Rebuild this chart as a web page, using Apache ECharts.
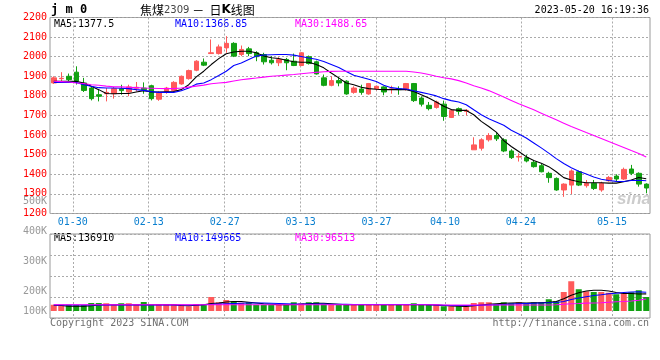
<!DOCTYPE html>
<html><head><meta charset="utf-8">
<script src="https://cdn.jsdelivr.net/npm/echarts@6/dist/echarts.min.js"></script>
<style>html,body{margin:0;padding:0;background:#fff}#c{width:660px;height:360px}</style>
</head><body><div id="c"></div>
<script>
const dates = [
'01-17','01-18','01-19','01-20','01-30','01-31','02-01','02-02','02-03','02-06',
'02-07','02-08','02-09','02-10','02-13','02-14','02-15','02-16','02-17','02-20',
'02-21','02-22','02-23','02-24','02-27','02-28','03-01','03-02','03-03','03-06',
'03-07','03-08','03-09','03-10','03-13','03-14','03-15','03-16','03-17','03-20',
'03-21','03-22','03-23','03-24','03-27','03-28','03-29','03-30','03-31','04-03',
'04-04','04-06','04-07','04-10','04-11','04-12','04-13','04-14','04-17','04-18',
'04-19','04-20','04-21','04-24','04-25','04-26','04-27','04-28','05-04','05-05',
'05-08','05-09','05-10','05-11','05-12','05-15','05-16','05-17','05-18','05-19'];
const labelDates = ['01-30','02-13','02-27','03-13','03-27','04-10','04-24','05-15'];

const opens = [
1866,1888,1900,1921,1866,1840,1806,1811,1811,1837,
1820,1839,1840,1852,1783,1823,1828,1861,1888,1931,
1972,2016,2016,2045,2068,2011,2040,2020,2011,1982,
1969,1986,1977,1955,2000,1974,1892,1854,1878,1875,
1818,1835,1810,1837,1846,1833,1836,1834,1863,1789,
1752,1741,1758,1690,1735,1721,1525,1533,1576,1598,
1576,1519,1488,1485,1461,1444,1405,1379,1320,1345,
1413,1342,1354,1320,1367,1391,1376,1427,1405,1350];
const closes = [
1892,1890,1883,1875,1828,1786,1798,1818,1837,1827,
1846,1844,1832,1786,1815,1840,1869,1900,1929,1977,
1957,2020,2050,2068,2003,2037,2016,2000,1974,1969,
1986,1969,1955,2020,1965,1912,1854,1878,1866,1810,
1840,1818,1863,1849,1820,1836,1832,1863,1776,1758,
1735,1769,1695,1726,1721,1726,1550,1576,1598,1581,
1519,1485,1491,1468,1439,1413,1383,1320,1350,1417,
1345,1354,1328,1354,1384,1376,1425,1405,1350,1330];
const lows = [
1861,1875,1875,1858,1820,1777,1772,1772,1786,1806,
1798,1823,1811,1777,1775,1811,1823,1857,1883,1926,
1952,2014,2011,2020,1998,2003,2003,1977,1960,1960,
1952,1931,1952,1952,1960,1909,1849,1849,1849,1806,
1811,1806,1806,1828,1803,1811,1806,1827,1769,1746,
1726,1735,1673,1687,1704,1700,1525,1521,1567,1570,
1513,1478,1465,1461,1434,1410,1357,1316,1285,1299,
1340,1332,1320,1311,1362,1362,1371,1396,1337,1303];
const highs = [
1900,1921,1914,1951,1892,1846,1832,1840,1846,1857,
1857,1871,1869,1857,1823,1846,1875,1904,1934,1982,
1991,2088,2062,2105,2074,2057,2050,2028,2020,2003,
1998,1994,2016,2023,2006,1980,1909,1900,1895,1880,
1849,1857,1866,1852,1849,1852,1849,1866,1866,1798,
1769,1776,1776,1733,1741,1733,1589,1584,1610,1610,
1584,1528,1507,1499,1470,1453,1413,1384,1354,1425,
1419,1371,1371,1362,1391,1400,1434,1448,1410,1354];

const ma5 = [
1875,1875,1875,1874,1866,1849,1832,1812,1811,1812,
1812,1820,1827,1820,1820,1821,1822,1832,1857,1897,
1926,1960,1990,2015,2024,2028,2028,2020,2004,1995,
1991,1982,1974,1972,1972,1960,1943,1917,1892,1866,
1857,1844,1837,1834,1832,1832,1832,1832,1822,1806,
1789,1769,1747,1730,1726,1726,1704,1670,1644,1615,
1572,1542,1516,1490,1470,1456,1439,1413,1383,1371,
1362,1357,1357,1357,1355,1355,1362,1371,1384,1377.5];
const ma10 = [
1868,1869,1870,1868,1857,1849,1842,1840,1840,1839,
1837,1832,1828,1822,1818,1818,1818,1826,1840,1860,
1866,1883,1904,1926,1955,1968,1986,2003,2009,2010,
2011,2011,2008,2001,1993,1987,1975,1960,1945,1925,
1905,1895,1885,1873,1854,1842,1837,1835,1826,1818,
1810,1800,1786,1776,1769,1755,1729,1704,1683,1667,
1650,1625,1606,1585,1560,1535,1508,1480,1455,1433,
1416,1401,1386,1375,1368,1364,1363,1368,1370,1366.85];
const ma30 = [
1875,1873,1871,1866,1863,1857,1854,1850,1847,1846,
1844,1842,1840,1839,1838,1837,1837,1840,1845,1850,
1855,1862,1866,1869,1876,1882,1887,1891,1896,1900,
1903,1906,1909,1913,1917,1920,1923,1925,1926,1926,
1926,1926,1926,1926,1926,1926,1926,1926,1922,1917,
1909,1900,1893,1887,1878,1866,1852,1840,1827,1811,
1794,1777,1760,1745,1729,1712,1695,1678,1661,1644,
1629,1613,1598,1583,1567,1552,1537,1521,1506,1488.65];

const volumes = [
50000,50000,50000,48000,48000,64000,64000,62000,50000,62000,
62000,50000,72000,50000,56000,56000,56000,50000,38000,56000,
56000,112000,70000,88000,78000,66000,70000,50000,50000,50000,
50000,50000,70000,62000,70000,70000,56000,50000,50000,50000,
50000,50000,50000,50000,50000,50000,50000,50000,62000,50000,
50000,50000,38000,38000,38000,38000,64000,70000,70000,56000,
70000,62000,70000,62000,70000,70000,94000,78000,152000,238000,
174000,158000,152000,152000,146000,134000,144000,150000,166000,112000];
const volMA5 = [
46000,44000,38000,38000,38000,42000,48000,50000,50000,50000,
50000,50000,50000,50000,50000,50000,50000,44000,42000,46000,
50000,60000,64000,72000,76000,76000,70000,64000,58000,54000,
50000,50000,52000,54000,58000,62000,62000,58000,54000,50000,
50000,50000,50000,50000,50000,50000,50000,50000,50000,50000,
50000,48000,44000,40000,38000,36000,42000,48000,54000,58000,
62000,64000,66000,64000,66000,66000,70000,76000,98000,126000,
146000,160000,166000,166000,160000,148000,140000,140000,136000,136910];
const volMA10 = [
48000,48000,48000,48000,48000,48000,48000,48000,48000,48000,
48000,48000,48000,48000,48000,48000,48000,48000,48000,48000,
50000,54000,56000,58000,60000,62000,64000,64000,64000,62000,
60000,58000,56000,56000,56000,56000,56000,54000,54000,54000,
52000,52000,52000,52000,52000,52000,52000,52000,52000,52000,
50000,48000,46000,44000,44000,44000,44000,46000,48000,50000,
52000,56000,58000,60000,62000,64000,66000,68000,76000,92000,
104000,114000,124000,130000,138000,142000,148000,152000,153000,149665];
const volMA30 = [
50000,50000,50000,50000,50000,50000,50000,50000,50000,50000,
50000,50000,50000,50000,50000,50000,50000,50000,50000,50000,
50000,50000,50000,50000,50000,50000,50000,50000,50000,50000,
50000,50000,50000,50000,50000,50000,50000,50000,50000,50000,
50000,50000,50000,50000,50000,50000,50000,50000,50000,50000,
50000,50000,48000,48000,48000,48000,48000,48000,48000,48000,
48000,48000,48000,48000,48000,48000,48000,50000,54000,58000,
60000,63000,64000,66000,70000,74000,76000,80000,86000,96513];

const MONO = '"DejaVu Sans Mono", monospace';
const RED = '#ff5a5a', GREEN = '#12a112';
const dotted = {color:'#aaaaaa', type:[2,2], width:1};
const isLabelDate = (idx, val) => labelDates.indexOf(val) >= 0;
const shifted = dates.slice(1).concat(['']);
const last = dates.length - 1;

const candleData = dates.map((d, i) => [opens[i], closes[i], lows[i], highs[i]]);
const volData = volumes.map((v, i) => ({value: v, itemStyle: {color: closes[i] >= opens[i] ? RED : GREEN}}));

const lineS = (data, color, xi, yi) => ({type:'line', data, xAxisIndex:xi, yAxisIndex:yi, symbol:'none', showSymbol:false,
  lineStyle:{color, width:1.1}, itemStyle:{color}, z:4, silent:true});

const txt = (x, y, text, fill, extra) => ({type:'text', x, y, silent:true,
  style: Object.assign({text, fill, font:'10px ' + MONO, verticalAlign:'middle', align:'left'}, extra || {})});

const chart = echarts.init(document.getElementById('c'), null, {renderer:'canvas'});
chart.setOption({
  animation:false,
  backgroundColor:'#fff',
  grid:[
    {left:50, right:10, top:17.5, height:196, show:true, borderColor:'#999', borderWidth:1},
    {left:50, right:10, top:234, height:84, show:true, borderColor:'#999', borderWidth:1},
    {left:50, right:10, top:201, height:120, show:false}
  ],
  xAxis:[
    {type:'category', gridIndex:0, data:dates, boundaryGap:true, show:false, position:'top'},
    {type:'category', gridIndex:0, data:shifted, boundaryGap:false, position:'bottom',
      axisLine:{show:false, onZero:false}, axisTick:{show:false},
      axisLabel:{interval:isLabelDate, color:'#0a7fcf', fontFamily:MONO, fontSize:10, margin:4},
      splitLine:{show:true, interval:isLabelDate, lineStyle:dotted}},
    {type:'category', gridIndex:1, data:dates, boundaryGap:true, show:false, position:'top', axisLine:{onZero:false}},
    {type:'category', gridIndex:1, data:shifted, boundaryGap:false, position:'bottom',
      axisLine:{show:false, onZero:false}, axisTick:{show:false}, axisLabel:{show:false},
      splitLine:{show:true, interval:isLabelDate, lineStyle:dotted}},
    {type:'category', gridIndex:2, data:dates, show:false, axisLine:{onZero:false}}
  ],
  yAxis:[
    {type:'value', gridIndex:0, min:1200, max:2200, interval:100, position:'left',
      axisLine:{show:false}, axisTick:{show:false},
      axisLabel:{color:'#ff0000', fontFamily:MONO, fontSize:10, margin:3, padding:[0,0,4,0], formatter:v => String(v)},
      splitLine:{show:true, lineStyle:dotted}},
    {type:'value', gridIndex:1, min:-56000, max:616000, show:false, position:'left', splitLine:{show:false}},
    {type:'value', gridIndex:1, min:0, max:4, interval:1, position:'right',
      axisLine:{show:false}, axisTick:{show:false}, axisLabel:{show:false},
      splitLine:{show:true, lineStyle:dotted}},
    {type:'value', gridIndex:2, min:100000, max:500000, interval:100000, position:'left',
      axisLine:{show:false}, axisTick:{show:false}, splitLine:{show:false},
      axisLabel:{color:'#999999', fontFamily:MONO, fontSize:10, margin:3, lineHeight:20,
        formatter:v => (v/1000) + 'K' + (v === 100000 ? '\n ' : '')}}
  ],
  series:[
    {type:'candlestick', xAxisIndex:0, yAxisIndex:0, data:candleData, barWidth:5, z:2, silent:true,
      itemStyle:{color:RED, color0:GREEN, borderColor:RED, borderColor0:GREEN, borderWidth:1}},
    lineS(ma5, '#000000', 0, 0),
    lineS(ma10, '#0000ff', 0, 0),
    lineS(ma30, '#ff00ff', 0, 0),
    {type:'bar', xAxisIndex:2, yAxisIndex:1, data:volData, barWidth:6, z:2, silent:true},
    lineS(volMA5, '#000000', 2, 1),
    lineS(volMA10, '#0000ff', 2, 1),
    lineS(volMA30, '#ff00ff', 2, 1)
  ],
  graphic:[
    txt(51, 10, 'j m 0', '#000', {font:'bold 12px ' + MONO}),
    {type:'text', x:140, y:10, silent:true, style:{
      text:'{a|焦煤}{b|2309}{a| －  日}{k|K}{a|线图}', verticalAlign:'middle', fill:'#000',
      rich:{
        a:{fontFamily:'"Noto Sans CJK SC"', fontSize:12, fill:'#000'},
        b:{fontFamily:'"DejaVu Sans"', fontSize:10, fill:'#444'},
        k:{fontFamily:'"DejaVu Sans"', fontSize:12, fontWeight:'bold', fill:'#000'}
      }}},
    txt(649, 10, '2023-05-20 16:19:36', '#000', {align:'right'}),
    txt(54, 24, 'MA5:' + ma5[last], '#000'),
    txt(175, 24, 'MA10:' + ma10[last], '#0000ff'),
    txt(295, 24, 'MA30:' + ma30[last], '#ff00ff'),
    txt(54, 238.5, 'MA5:' + volMA5[last], '#000'),
    txt(175, 238.5, 'MA10:' + volMA10[last], '#0000ff'),
    txt(295, 238.5, 'MA30:' + volMA30[last], '#ff00ff'),
    txt(50, 323.5, 'Copyright 2023 SINA.COM', '#707070'),
    txt(649, 323.5, 'http://finance.sina.com.cn', '#707070', {align:'right'}),
    txt(617, 199, 'sina', '#cccccc', {font:'italic bold 17px "Liberation Sans"'})
  ]
});
</script></body></html>
